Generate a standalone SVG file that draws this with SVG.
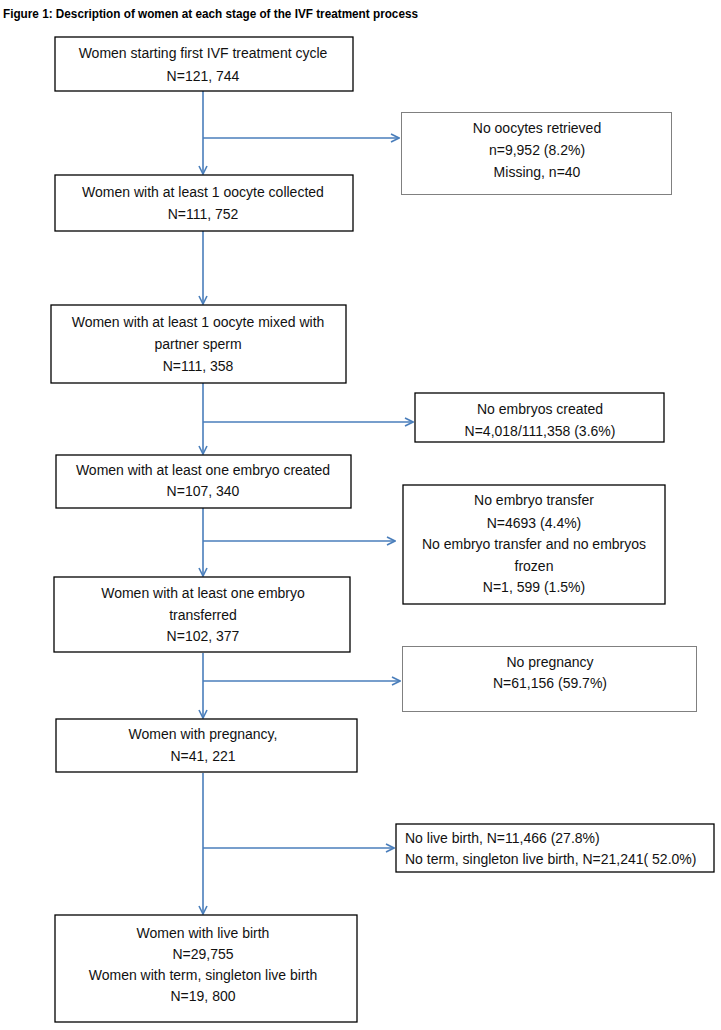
<svg xmlns="http://www.w3.org/2000/svg" width="721" height="1030" viewBox="0 0 721 1030">
<defs>
<style>
.t{font-family:"Liberation Sans",Arial,sans-serif;font-size:14px;fill:#111;text-anchor:middle}
.tl{font-family:"Liberation Sans",Arial,sans-serif;font-size:14px;fill:#111}
.title{font-family:"Liberation Sans",Arial,sans-serif;font-size:12.5px;font-weight:bold;fill:#000}
.b{fill:#fff;stroke:#000;stroke-width:1.3}
.g{fill:#fff;stroke:#808080;stroke-width:1}
.c{fill:none;stroke:#4a7ebb;stroke-width:1.6}
</style>
<marker id="ah" viewBox="0 0 10 10" refX="9" refY="5" markerWidth="10" markerHeight="10" markerUnits="userSpaceOnUse" orient="auto">
<path d="M1,1 L9,5 L1,9" fill="none" stroke="#4a7ebb" stroke-width="1.6"/>
</marker>
</defs>
<rect width="721" height="1030" fill="#fff"/>
<text class="title" x="3" y="18" textLength="415" lengthAdjust="spacingAndGlyphs">Figure 1: Description of women at each stage of the IVF treatment process</text>

<g id="connectors">
<line class="c" x1="203" y1="91" x2="203" y2="174" marker-end="url(#ah)"/>
<line class="c" x1="203" y1="138" x2="399" y2="138" marker-end="url(#ah)"/>
<line class="c" x1="203" y1="231" x2="203" y2="304" marker-end="url(#ah)"/>
<line class="c" x1="203" y1="383" x2="203" y2="454" marker-end="url(#ah)"/>
<line class="c" x1="203" y1="422" x2="413" y2="422" marker-end="url(#ah)"/>
<line class="c" x1="203" y1="508" x2="203" y2="576" marker-end="url(#ah)"/>
<line class="c" x1="203" y1="541" x2="395" y2="541" marker-end="url(#ah)"/>
<line class="c" x1="203" y1="653" x2="203" y2="718" marker-end="url(#ah)"/>
<line class="c" x1="203" y1="681" x2="400" y2="681" marker-end="url(#ah)"/>
<line class="c" x1="203" y1="773" x2="203" y2="914" marker-end="url(#ah)"/>
<line class="c" x1="203" y1="848" x2="394" y2="848" marker-end="url(#ah)"/>
</g>

<g id="n1">
<rect class="b" x="55" y="37" width="298" height="54"/>
<text class="t" x="203" y="58">Women starting first IVF treatment cycle</text>
<text class="t" x="203" y="81">N=121, 744</text>
</g>
<g id="s1">
<rect class="g" x="401.5" y="112.5" width="270" height="82"/>
<text class="t" x="537" y="133">No oocytes retrieved</text>
<text class="t" x="537" y="155">n=9,952 (8.2%)</text>
<text class="t" x="537" y="177">Missing, n=40</text>
</g>
<g id="n2">
<rect class="b" x="55" y="175" width="298" height="56"/>
<text class="t" x="203" y="197">Women with at least 1 oocyte collected</text>
<text class="t" x="203" y="219">N=111, 752</text>
</g>
<g id="n3">
<rect class="b" x="51" y="305" width="295" height="78"/>
<text class="t" x="198" y="327">Women with at least 1 oocyte mixed with</text>
<text class="t" x="198" y="349">partner sperm</text>
<text class="t" x="198" y="371">N=111, 358</text>
</g>
<g id="s2">
<rect class="b" x="415" y="393" width="249" height="49"/>
<text class="t" x="540" y="414">No embryos created</text>
<text class="t" x="540" y="436">N=4,018/111,358 (3.6%)</text>
</g>
<g id="n4">
<rect class="b" x="56" y="455" width="295" height="53"/>
<text class="t" x="203" y="475">Women with at least one embryo created</text>
<text class="t" x="203" y="496">N=107, 340</text>
</g>
<g id="s3">
<rect class="b" x="403" y="485" width="262" height="119"/>
<text class="t" x="534" y="505">No embryo transfer</text>
<text class="t" x="534" y="528">N=4693 (4.4%)</text>
<text class="t" x="534" y="549">No embryo transfer and no embryos</text>
<text class="t" x="534" y="571">frozen</text>
<text class="t" x="534" y="592">N=1, 599 (1.5%)</text>
</g>
<g id="n5">
<rect class="b" x="54" y="577" width="296" height="75"/>
<text class="t" x="203" y="598">Women with at least one embryo</text>
<text class="t" x="203" y="620">transferred</text>
<text class="t" x="203" y="641">N=102, 377</text>
</g>
<g id="s4">
<rect class="g" x="402.5" y="646.5" width="294" height="65"/>
<text class="t" x="550" y="667">No pregnancy</text>
<text class="t" x="550" y="688">N=61,156 (59.7%)</text>
</g>
<g id="n6">
<rect class="b" x="56" y="719" width="301" height="53"/>
<text class="t" x="203" y="739">Women with pregnancy,</text>
<text class="t" x="203" y="761">N=41, 221</text>
</g>
<g id="s5">
<rect class="b" x="396" y="824" width="318" height="48"/>
<text class="tl" x="405" y="843">No live birth, N=11,466 (27.8%)</text>
<text class="tl" x="405" y="864">No term, singleton live birth, N=21,241( 52.0%)</text>
</g>
<g id="n7">
<rect class="b" x="55" y="915" width="302" height="107"/>
<text class="t" x="203" y="938">Women with live birth</text>
<text class="t" x="203" y="959">N=29,755</text>
<text class="t" x="203" y="980">Women with term, singleton live birth</text>
<text class="t" x="203" y="1001">N=19, 800</text>
</g>
</svg>
